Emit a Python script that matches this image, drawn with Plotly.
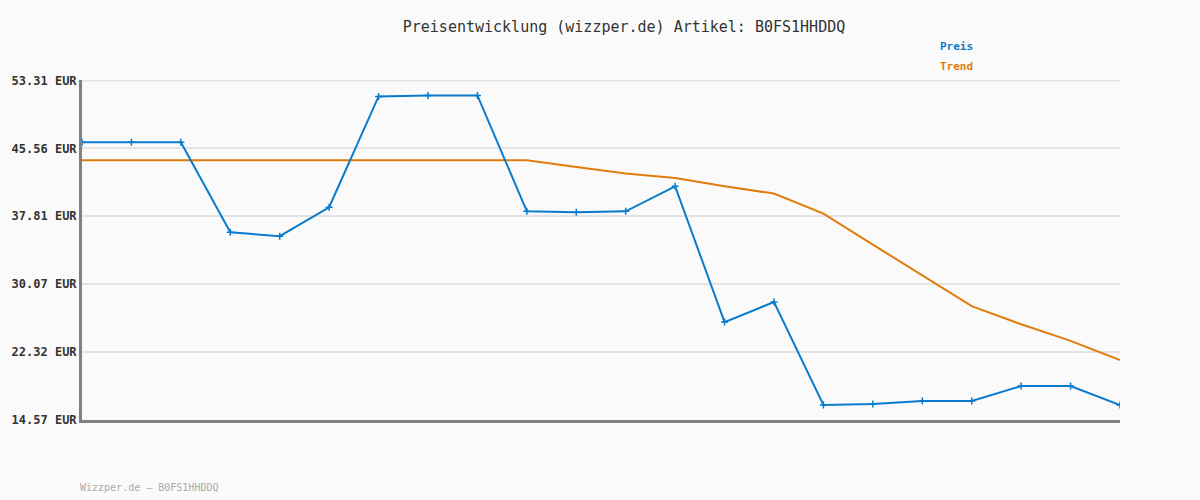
import plotly.graph_objects as go

# Preisverlauf (EUR)
idx = list(range(22))
preis = [46.25, 46.25, 46.25, 35.99, 35.54, 38.84, 51.49, 51.60, 51.60, 38.38, 38.27,
         38.38, 41.23, 25.74, 28.02, 16.28, 16.40, 16.74, 16.74, 18.44, 18.44, 16.28]
trend = [44.20, 44.20, 44.20, 44.20, 44.20, 44.20, 44.20, 44.20, 44.20, 44.20, 43.44,
         42.68, 42.18, 41.23, 40.40, 38.12, 34.58, 31.07, 27.56, 25.49, 23.60, 21.41]
tick_vals = [14.57, 22.32, 30.07, 37.81, 45.56, 53.31]
tick_text = ["%.2f EUR" % v for v in tick_vals]

BLUE = "#0a7bcc"
ORANGE = "#e07c0c"
FONT = "DejaVu Sans Mono"

fig = go.Figure()
# oberste Gitterlinie (wird von Plotly am Rand nicht gezeichnet)
fig.add_hline(y=tick_vals[-1], line_color="#e3e3e3", line_width=2, layer="below")
fig.add_trace(go.Scatter(x=idx, y=trend, mode="lines", name="Trend",
                         line=dict(color=ORANGE, width=2), showlegend=False))
fig.add_trace(go.Scatter(x=idx, y=preis, mode="lines+markers", name="Preis",
                         line=dict(color=BLUE, width=2),
                         marker=dict(symbol="cross-thin", size=5, color=BLUE,
                                     line=dict(width=1.5, color=BLUE)),
                         showlegend=False))

# Legende als farbiger Text oben rechts (Pixelpositionen -> Papierkoordinaten)
def px_x(x):
    return (x - 80) / 1040

def px_y(y):
    return (420 - y) / 340

fig.add_annotation(x=px_x(938), y=px_y(47), xref="paper", yref="paper", text="<b>Preis</b>",
                   showarrow=False, xanchor="left", yanchor="middle",
                   font=dict(family=FONT, size=11, color=BLUE))
fig.add_annotation(x=px_x(938), y=px_y(67), xref="paper", yref="paper", text="<b>Trend</b>",
                   showarrow=False, xanchor="left", yanchor="middle",
                   font=dict(family=FONT, size=11, color=ORANGE))
# Fußzeile
fig.add_annotation(x=px_x(76), y=px_y(487), xref="paper", yref="paper",
                   text="Wizzper.de – B0FS1HHDDQ",
                   showarrow=False, xanchor="left", yanchor="middle",
                   font=dict(family=FONT, size=10, color="#aaaaaa"))

fig.update_layout(
    width=1200, height=500,
    margin=dict(l=80, r=80, t=80, b=80),
    paper_bgcolor="#fafafa", plot_bgcolor="#fafafa",
    title=dict(text="Preisentwicklung (wizzper.de) Artikel: B0FS1HHDDQ", x=624 / 1200, y=1 - 27 / 500,
               xanchor="center", yanchor="middle",
               font=dict(family=FONT, size=15, color="#333333")),
    xaxis=dict(range=[0, 21], showticklabels=False, ticks="", showgrid=False,
               zeroline=False, showline=True, linecolor="#808080", linewidth=3),
    yaxis=dict(range=[14.569, 53.36], tickvals=tick_vals, ticktext=tick_text,
               showgrid=True, gridcolor="#e3e3e3", gridwidth=2, zeroline=False,
               showline=True, linecolor="#808080", linewidth=3, ticks="", ticklen=0,
               tickfont=dict(family=FONT, size=12, color="#333333", weight="bold")),
)

fig.write_html("out.html", config={"displayModeBar": False},
               post_script="document.body.style.margin='0';document.body.style.background='#fafafa';")
